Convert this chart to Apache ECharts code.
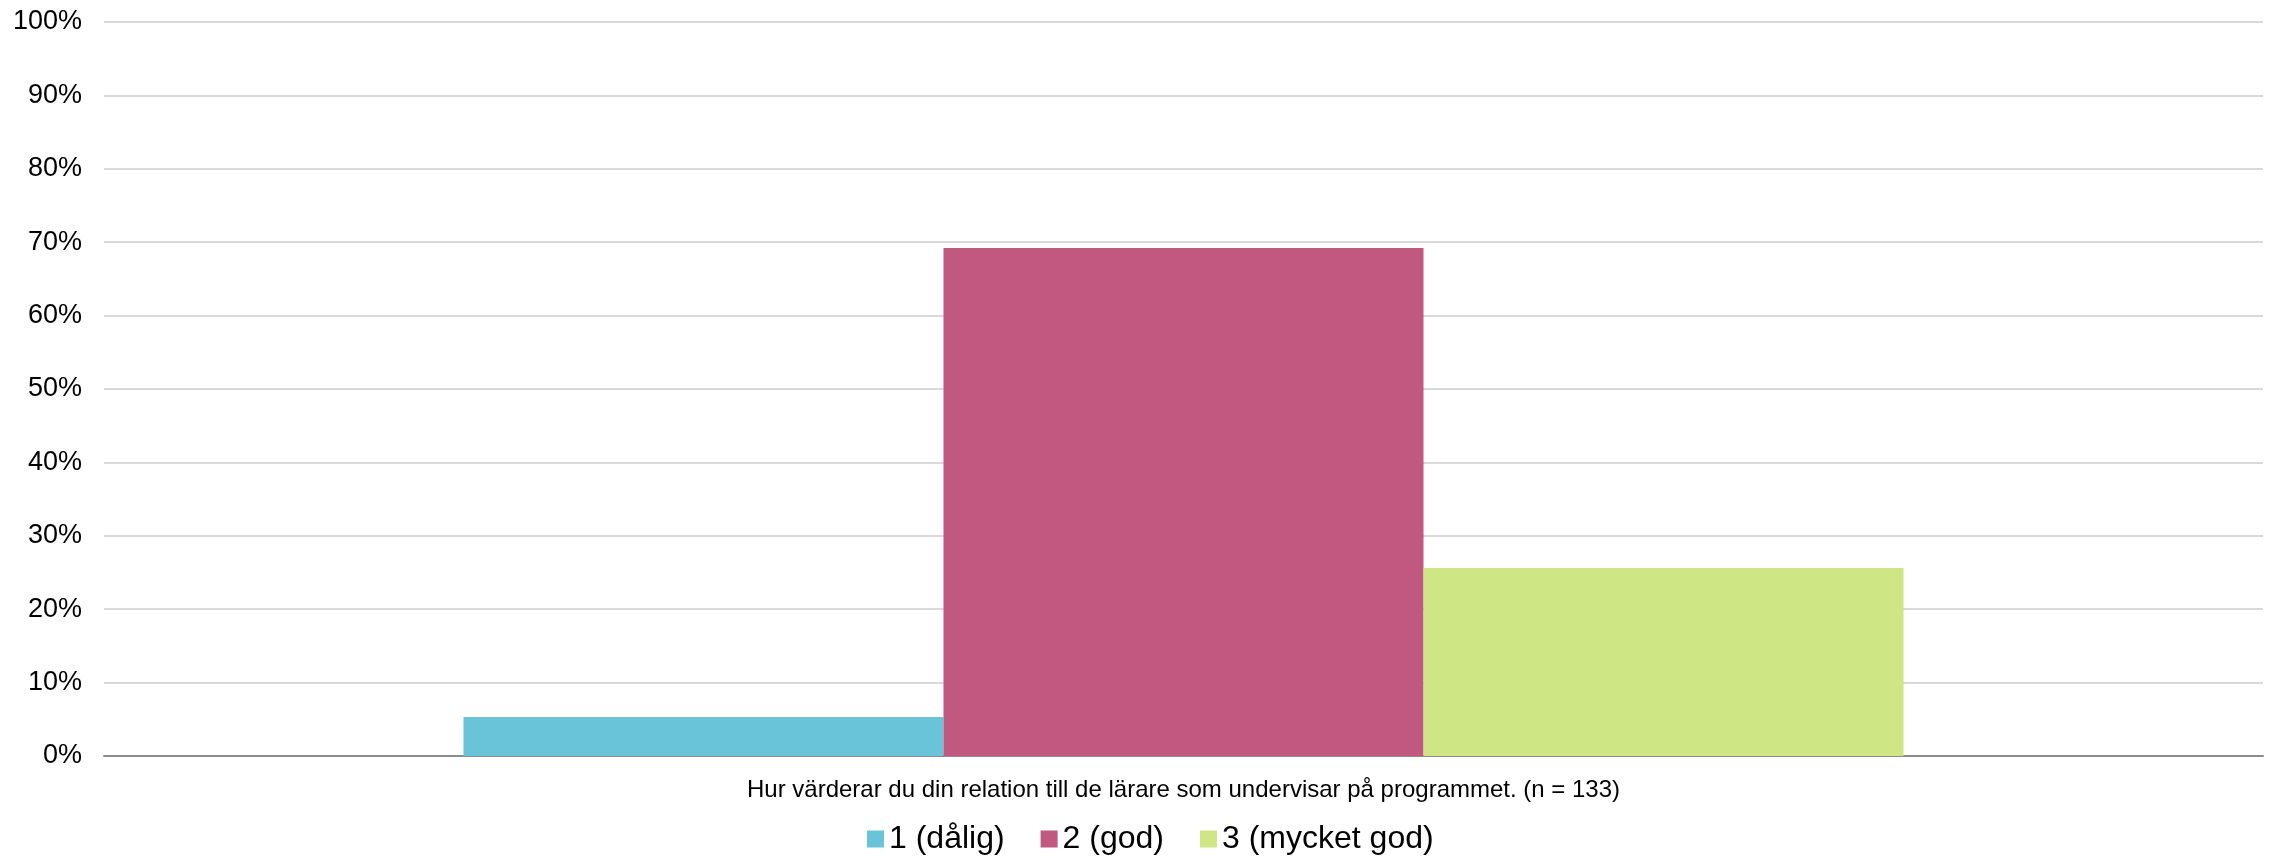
<!DOCTYPE html>
<html><head><meta charset="utf-8">
<script src="https://cdn.jsdelivr.net/npm/echarts@6/dist/echarts.min.js"></script>
<style>html,body{margin:0;padding:0;background:#fff}#c{width:2272px;height:861px}</style>
</head><body><div id="c"></div>
<script>
const categories = ["Hur värderar du din relation till de lärare som undervisar på programmet. (n = 133)"];
const seriesNames = ["1 (dålig)", "2 (god)", "3 (mycket god)"];
const values1 = [5.3];
const values2 = [69.2];
const values3 = [25.6];
const colors = ["#69C4D9", "#C0587F", "#CEE784"];
const font = "Liberation Sans, Arial, sans-serif";
const chart = echarts.init(document.getElementById('c'));
const data = [values1, values2, values3];
chart.setOption({
  animation: false,
  textStyle: {fontFamily: font},
  grid: {left: 104, right: 9, top: 22, bottom: 105, containLabel: false},
  legend: {
    top: 818, left: 862, itemWidth: 17, itemHeight: 17, itemGap: 36,
    icon: 'rect',
    textStyle: {fontFamily: font, fontSize: 32, color: '#000'},
    data: seriesNames
  },
  xAxis: {
    type: 'category', data: categories,
    axisLine: {lineStyle: {color: '#8c8c8c', width: 2}},
    axisTick: {show: false},
    axisLabel: {fontFamily: font, fontSize: 24, color: '#000', margin: 22}
  },
  yAxis: {
    type: 'value', min: 0, max: 100, interval: 10,
    axisLabel: {formatter: '{value}%', fontFamily: font, fontSize: 27, color: '#000', margin: 22},
    splitLine: {lineStyle: {color: '#d9d9d9', width: 2}},
    axisLine: {show: false}, axisTick: {show: false}
  },
  series: seriesNames.map((n, i) => ({
    name: n, type: 'bar', data: data[i], barGap: '0%', barCategoryGap: '33.3%',
    itemStyle: {color: colors[i]}
  }))
});
</script></body></html>
